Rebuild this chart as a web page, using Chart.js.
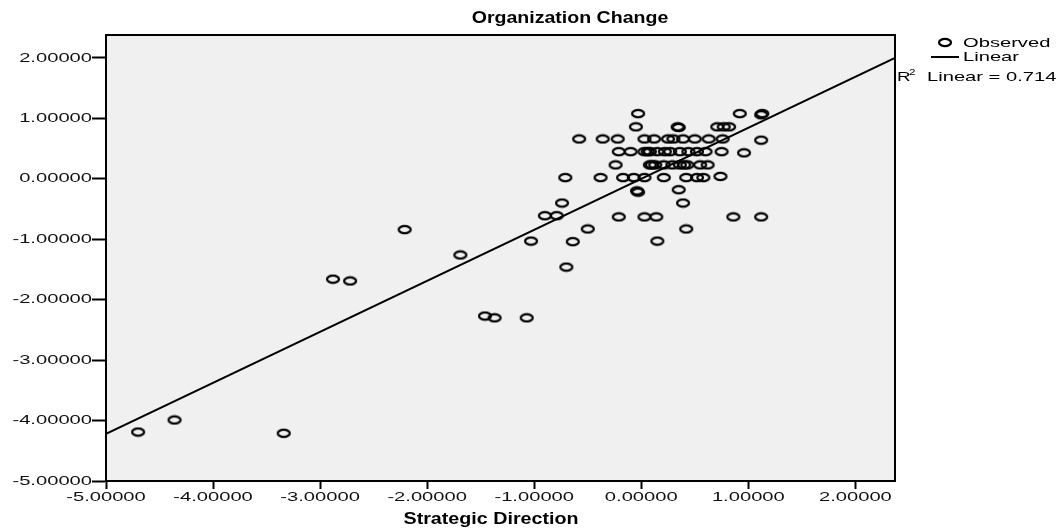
<!DOCTYPE html>
<html>
<head>
<meta charset="utf-8">
<script src="https://cdn.jsdelivr.net/npm/chart.js@4"></script>
<style>
  body { margin: 0; background: #fff; }
  #wrap { width: 1058px; height: 532px; }
</style>
</head>
<body>
<div id="wrap"><canvas id="myChart" width="1058" height="532"></canvas></div>
<script>
// observed points (Strategic Direction, Organization Change)
var obsX = [-4.70, -4.36, -3.34, -2.88, -2.72, -2.21, -1.69, -1.46, -1.37, -1.07,
    -1.03, -0.90, -0.79, -0.74, -0.71, -0.64, -0.70,
    -0.03, 0.92, 1.13, 1.12,
    -0.05, 0.34, 0.35, 0.71, 0.77, 0.82,
    -0.58, -0.36, -0.22, 0.03, 0.12, 0.25, 0.30, 0.39, 0.50, 0.63, 0.76, 1.12,
    -0.21, -0.10, 0.03, 0.08, 0.15, 0.22, 0.36, 0.44, 0.52, 0.60, 0.75, 0.96, 0.06, 0.27,
    -0.24, 0.08, 0.13, 0.21, 0.29, 0.36, 0.43, 0.55, 0.62, 0.10, 0.40,
    -0.38, -0.17, -0.07, 0.03, 0.21, 0.42, 0.52, 0.58, 0.74,
    -0.04, -0.03, 0.35, 0.39,
    -0.21, 0.03, 0.14, 0.86, 1.12,
    -0.50, 0.42, 0.15];
var obsY = [-4.19, -3.99, -4.21, -1.66, -1.69, -0.84, -1.26, -2.27, -2.30, -2.30,
    -1.03, -0.61, -0.61, -0.40, 0.02, -1.04, -1.46,
    1.08, 1.08, 1.08, 1.06,
    0.86, 0.86, 0.85, 0.86, 0.86, 0.86,
    0.66, 0.66, 0.66, 0.66, 0.66, 0.66, 0.66, 0.66, 0.66, 0.66, 0.66, 0.64,
    0.45, 0.45, 0.45, 0.45, 0.45, 0.45, 0.45, 0.45, 0.45, 0.45, 0.45, 0.43, 0.45, 0.45,
    0.23, 0.23, 0.23, 0.23, 0.23, 0.23, 0.23, 0.23, 0.23, 0.23, 0.23,
    0.02, 0.02, 0.02, 0.02, 0.02, 0.02, 0.02, 0.02, 0.04,
    -0.20, -0.22, -0.18, -0.40,
    -0.63, -0.63, -0.63, -0.63, -0.63,
    -0.83, -0.83, -1.03];

// fit line end points
var lineX = [-5.0, 2.37];
var lineY = [-4.22, 2.0];

var xTicks = [-5, -4, -3, -2, -1, 0, 1, 2];
var yTicks = [-5, -4, -3, -2, -1, 0, 1, 2];

var rSquare = '0.714';

var FONT = '"Liberation Sans", Arial, sans-serif';

function ellipseMarker() {
    let c = document.createElement('canvas');
    c.width = 16;
    c.height = 11;
    let g = c.getContext('2d');
    g.lineWidth = 2.2;
    g.strokeStyle = '#000';
    g.beginPath();
    g.ellipse(8, 5.5, 6, 3.6, 0, 0, Math.PI * 2);
    g.stroke();
    return c;
}
var marker = ellipseMarker();

// the reference text is stretched sideways, so draw it with a horizontal scale
function wideText(ctx, text, x, y, align, sx, font) {
    ctx.save();
    ctx.font = font;
    ctx.textAlign = align;
    ctx.textBaseline = 'middle';
    ctx.translate(x, y);
    ctx.scale(sx, 1);
    ctx.fillText(text, 0, 0);
    ctx.restore();
}

var plotBox = {
    id: 'plotBox',
    beforeDatasetsDraw(chart) {
        let a = chart.chartArea, ctx = chart.ctx;
        ctx.save();
        ctx.fillStyle = '#f0f0f0';
        ctx.fillRect(a.left, a.top, a.right - a.left, a.bottom - a.top);
        ctx.restore();
    },
    afterDraw(chart) {
        let a = chart.chartArea, ctx = chart.ctx;
        ctx.save();
        ctx.strokeStyle = '#000';
        ctx.lineWidth = 2;
        ctx.strokeRect(a.left, a.top, a.right - a.left, a.bottom - a.top);

        // tick labels
        let tickFont = '13px ' + FONT;
        ctx.fillStyle = '#111';
        xTicks.forEach(v => {
            wideText(ctx, v.toFixed(5), chart.scales.x.getPixelForValue(v), 497, 'center', 1.55, tickFont);
        });
        yTicks.forEach(v => {
            wideText(ctx, v.toFixed(5), 92, chart.scales.y.getPixelForValue(v), 'right', 1.55, tickFont);
        });

        ctx.fillStyle = '#000';
        wideText(ctx, 'Organization Change', 570, 18, 'center', 1.15, 'bold 17px ' + FONT);
        wideText(ctx, 'Strategic Direction', 491, 520, 'center', 1.23, 'bold 16px ' + FONT);

        // legend
        let lf = '13px ' + FONT;
        ctx.drawImage(marker, 937, 37);
        wideText(ctx, 'Observed', 963, 43, 'left', 1.55, lf);
        ctx.beginPath();
        ctx.moveTo(931, 57);
        ctx.lineTo(959, 57);
        ctx.stroke();
        wideText(ctx, 'Linear', 963, 57, 'left', 1.55, lf);
        wideText(ctx, 'R', 897, 77, 'left', 1.45, lf);
        wideText(ctx, '2', 909, 73, 'left', 1.3, '9px ' + FONT);
        wideText(ctx, 'Linear = ' + rSquare, 927, 77, 'left', 1.55, lf);
        ctx.restore();
    }
};

let ctx = document.getElementById('myChart').getContext('2d');
window.myChart = new Chart(ctx, {
    type: 'scatter',
    data: {
        datasets: [{
            label: 'Observed',
            data: obsX.map((x, i) => ({ x: x, y: obsY[i] })),
            pointStyle: marker,
            pointRadius: 6,
            order: 2
        }, {
            label: 'Linear',
            type: 'line',
            data: lineX.map((x, i) => ({ x: x, y: lineY[i] })),
            borderColor: '#000',
            borderWidth: 2,
            pointRadius: 0,
            fill: false,
            order: 1
        }]
    },
    options: {
        responsive: false,
        animation: false,
        layout: { padding: { top: 35, right: 163, bottom: 0, left: 0 } },
        plugins: {
            legend: { display: false },
            tooltip: { enabled: false }
        },
        scales: {
            x: {
                type: 'linear',
                position: 'bottom',
                min: -5,
                max: 2.37,
                afterFit: (s) => { s.height = 51; },
                afterBuildTicks: (s) => { s.ticks = xTicks.map(v => ({ value: v })); },
                ticks: { display: false },
                grid: { drawOnChartArea: false, tickLength: 8, tickColor: '#000', tickWidth: 2 },
                border: { color: '#000', width: 2 }
            },
            y: {
                type: 'linear',
                min: -5,
                max: 2.38,
                afterFit: (s) => { s.width = 106; },
                afterBuildTicks: (s) => { s.ticks = yTicks.map(v => ({ value: v })); },
                ticks: { display: false },
                grid: { drawOnChartArea: false, tickLength: 14, tickColor: '#000', tickWidth: 2 },
                border: { color: '#000', width: 2 }
            }
        }
    },
    plugins: [plotBox]
});
</script>
</body>
</html>
